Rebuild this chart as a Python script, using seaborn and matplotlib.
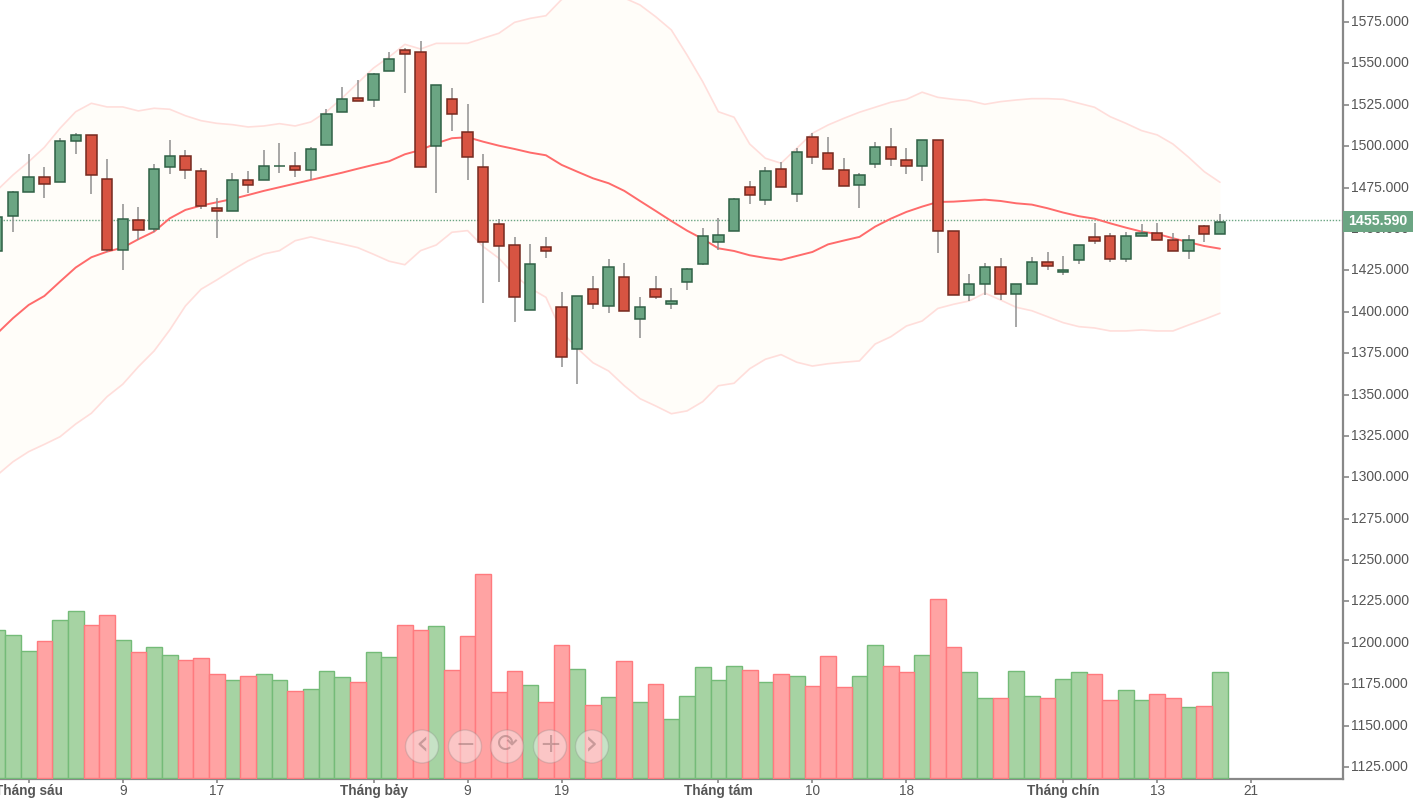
import matplotlib
matplotlib.use('Agg')
import matplotlib.pyplot as plt
from matplotlib.patches import Circle, Rectangle
import pandas as pd
import seaborn as sns

# Daily candles, first one is cut off by the left edge
days = list(range(-1, 78))
opens = [1436.9, 1457.9, 1472.1, 1481.2, 1478.2, 1503.1, 1507.0, 1480.4, 1437.3, 1455.6,
         1450.2, 1487.2, 1494.1, 1485.0, 1462.5, 1460.9, 1479.6, 1479.6, 1487.9, 1488.1,
         1485.6, 1500.7, 1520.5, 1528.9, 1528.1, 1545.4, 1558.3, 1556.7, 1500.1, 1528.7,
         1508.4, 1487.2, 1453.2, 1440.5, 1401.1, 1439.1, 1402.7, 1377.7, 1414.0, 1403.5,
         1420.8, 1395.9, 1414.0, 1404.9, 1417.8, 1429.1, 1442.0, 1448.8, 1475.2, 1467.5,
         1486.4, 1471.3, 1505.4, 1495.7, 1485.6, 1476.6, 1489.5, 1499.3, 1491.9, 1488.1,
         1504.0, 1448.8, 1410.1, 1417.0, 1426.9, 1411.0, 1417.0, 1429.9, 1423.8, 1431.3,
         1445.0, 1445.8, 1432.1, 1445.8, 1447.4, 1443.6, 1436.7, 1451.8, 1447.2]
highs = [1457.0, 1473.2, 1495.1, 1487.6, 1504.8, 1507.8, 1507.0, 1492.1, 1464.9, 1463.5,
         1489.1, 1503.6, 1497.5, 1486.6, 1468.5, 1483.6, 1485.2, 1497.5, 1501.7, 1496.5,
         1499.7, 1522.3, 1536.0, 1539.8, 1544.0, 1557.1, 1559.1, 1563.7, 1537.2, 1535.0,
         1525.3, 1495.1, 1455.8, 1445.4, 1440.7, 1445.4, 1412.0, 1409.7, 1421.8, 1431.7,
         1429.3, 1409.1, 1421.8, 1414.2, 1426.3, 1450.4, 1456.4, 1468.5, 1479.2, 1487.6,
         1490.5, 1498.7, 1507.8, 1505.8, 1492.9, 1483.6, 1502.5, 1510.8, 1498.7, 1504.0,
         1504.0, 1448.8, 1422.6, 1429.3, 1432.5, 1417.0, 1433.3, 1436.3, 1433.9, 1440.5,
         1453.4, 1447.4, 1448.2, 1452.8, 1453.4, 1447.4, 1446.6, 1452.6, 1458.9]
lows = [1436.9, 1448.4, 1472.1, 1468.9, 1478.2, 1495.1, 1471.1, 1436.3, 1425.2, 1443.4,
        1448.0, 1483.2, 1480.2, 1462.3, 1444.8, 1460.9, 1471.5, 1479.6, 1484.0, 1481.6,
        1479.6, 1500.7, 1520.5, 1527.1, 1523.9, 1545.4, 1532.3, 1487.2, 1471.9, 1509.0,
        1479.4, 1405.5, 1418.2, 1394.0, 1401.1, 1432.7, 1366.9, 1356.4, 1401.7, 1399.5,
        1400.5, 1384.2, 1407.7, 1401.7, 1413.0, 1428.1, 1437.3, 1448.8, 1465.1, 1464.3,
        1475.2, 1466.5, 1489.5, 1486.4, 1476.0, 1462.9, 1487.0, 1487.9, 1483.2, 1478.8,
        1435.7, 1410.1, 1406.3, 1410.1, 1407.1, 1391.0, 1417.0, 1425.0, 1422.0, 1428.9,
        1440.9, 1430.3, 1430.3, 1445.8, 1443.6, 1436.7, 1431.9, 1442.4, 1447.2]
closes = [1457.0, 1472.1, 1481.2, 1477.4, 1503.1, 1507.0, 1482.6, 1437.3, 1456.2, 1449.4,
          1486.4, 1494.1, 1485.6, 1463.7, 1460.7, 1479.6, 1476.6, 1488.1, 1488.3, 1485.6,
          1498.5, 1519.7, 1528.7, 1527.1, 1543.8, 1552.9, 1555.9, 1487.2, 1537.0, 1519.7,
          1493.3, 1442.0, 1439.7, 1408.7, 1429.1, 1436.7, 1372.5, 1409.5, 1404.9, 1426.9,
          1400.5, 1402.7, 1408.7, 1406.5, 1426.1, 1445.6, 1446.6, 1468.3, 1470.5, 1485.0,
          1475.2, 1496.3, 1493.3, 1486.4, 1476.0, 1482.6, 1499.3, 1492.5, 1488.1, 1504.0,
          1448.8, 1410.1, 1417.0, 1426.9, 1411.0, 1417.0, 1429.9, 1427.7, 1425.4, 1440.5,
          1442.8, 1432.1, 1445.8, 1447.4, 1443.6, 1436.7, 1443.6, 1447.2, 1454.0]

# 20 day average and bands
ma_mid = [1387.0, 1396.1, 1404.1, 1409.5, 1418.2, 1426.7, 1432.9, 1436.3, 1438.7, 1443.8,
          1448.4, 1456.4, 1461.5, 1464.1, 1466.1, 1468.1, 1470.5, 1473.0, 1475.2, 1477.4,
          1479.6, 1481.8, 1484.0, 1486.4, 1488.7, 1490.9, 1495.1, 1497.7, 1501.7, 1504.8,
          1505.4, 1502.7, 1500.3, 1498.3, 1496.1, 1494.5, 1488.7, 1484.6, 1480.6, 1477.6,
          1473.0, 1466.9, 1460.9, 1454.8, 1449.0, 1444.0, 1438.3, 1436.7, 1434.1, 1432.5,
          1431.3, 1433.7, 1436.1, 1440.7, 1443.0, 1445.2, 1451.4, 1456.2, 1460.3, 1463.5,
          1466.3, 1466.5, 1467.1, 1467.7, 1466.9, 1465.5, 1464.7, 1462.5, 1459.9, 1457.7,
          1456.2, 1453.4, 1450.8, 1448.4, 1447.0, 1444.4, 1442.0, 1439.7, 1438.1]
band_up = [1473.5, 1482.6, 1490.6, 1499.3, 1510.8, 1520.8, 1525.9, 1523.7, 1523.7, 1521.3,
           1522.9, 1522.3, 1518.4, 1515.4, 1513.8, 1513.0, 1511.6, 1512.2, 1513.6, 1512.2,
           1514.6, 1520.8, 1529.1, 1538.2, 1547.2, 1553.9, 1561.5, 1558.7, 1562.1, 1562.1,
           1562.1, 1565.2, 1568.2, 1574.8, 1577.2, 1578.8, 1588.6, 1591.9, 1593.1, 1592.5,
           1589.5, 1585.3, 1578.2, 1570.2, 1555.1, 1539.0, 1520.8, 1517.5, 1501.3, 1492.7,
           1489.7, 1498.7, 1507.8, 1512.8, 1516.8, 1520.5, 1523.5, 1526.5, 1528.3, 1532.6,
           1529.5, 1528.3, 1527.5, 1525.3, 1526.9, 1527.9, 1528.7, 1528.7, 1528.3, 1525.9,
           1523.5, 1517.8, 1513.8, 1509.4, 1506.8, 1501.3, 1493.3, 1484.6, 1478.2]
band_low = [1301.4, 1309.4, 1315.5, 1319.9, 1324.5, 1332.2, 1338.7, 1348.7, 1356.2, 1366.8,
            1376.3, 1389.0, 1403.5, 1413.6, 1419.2, 1425.2, 1430.8, 1434.9, 1436.9, 1442.9,
            1445.2, 1442.9, 1440.9, 1438.7, 1434.7, 1430.5, 1428.4, 1436.9, 1440.3, 1448.0,
            1449.0, 1439.3, 1432.3, 1422.2, 1414.2, 1408.7, 1388.0, 1377.9, 1369.2, 1364.2,
            1355.3, 1347.5, 1343.1, 1338.4, 1340.1, 1345.7, 1355.3, 1356.8, 1365.6, 1371.3,
            1374.1, 1369.5, 1367.2, 1368.6, 1369.5, 1370.3, 1380.5, 1384.9, 1391.4, 1394.4,
            1402.0, 1404.5, 1406.5, 1411.3, 1407.1, 1402.7, 1400.6, 1397.0, 1393.4, 1391.0,
            1390.2, 1388.4, 1388.4, 1389.0, 1388.4, 1388.4, 1392.0, 1395.4, 1399.1]

# Volume has no scale on the chart, so these are just relative bar heights
volumes = [148.3, 143.3, 127.0, 137.0, 158.3, 167.0, 153.3, 163.3, 138.3, 125.7,
           130.7, 123.3, 118.3, 119.7, 104.3, 98.3, 102.0, 104.3, 98.3, 87.0,
           89.3, 107.0, 100.7, 95.7, 125.7, 120.7, 153.3, 148.3, 152.0, 108.3,
           142.0, 204.3, 85.7, 107.0, 93.3, 75.7, 133.0, 109.3, 73.3, 80.7,
           117.0, 75.7, 94.3, 59.3, 82.0, 110.7, 98.3, 112.0, 108.3, 95.7,
           104.3, 102.0, 92.0, 122.0, 90.7, 102.0, 133.0, 112.0, 105.7, 123.3,
           179.3, 130.7, 105.7, 79.7, 79.7, 107.0, 82.0, 79.7, 99.3, 105.7,
           104.3, 78.3, 88.3, 78.3, 84.3, 79.7, 70.7, 72.0, 105.7]

last_price = 1455.59
price_ticks = list(range(1125, 1600, 25))
date_ticks = [1, 7, 13, 23, 29, 35, 45, 51, 57, 67, 73, 79]
date_labels = ['Tháng sáu', '9', '17', 'Tháng bảy', '9', '19', 'Tháng tám', '10', '18', 'Tháng chín', '13', '21']

sns.set_style('white')
plt.rcParams['font.family'] = ['Liberation Sans', 'DejaVu Sans']

df = pd.DataFrame({'day': days, 'open': opens, 'high': highs, 'low': lows, 'close': closes,
                   'volume': volumes, 'mid': ma_mid, 'up': band_up, 'dn': band_low})
df['dir'] = ['up' if c >= o else 'down' for o, c in zip(df['open'], df['close'])]
body_low = df[['open', 'close']].min(axis=1)
body_h = (df['open'] - df['close']).abs()

fig, ax = plt.subplots(figsize=(14.13, 8.02), dpi=100)
fig.subplots_adjust(left=0, right=1343 / 1413, top=1, bottom=1 - 779 / 802)

# Volume along the bottom, on its own hidden scale
ax2 = ax.twinx()
sns.barplot(data=df, x='day', y='volume', hue='dir', hue_order=['up', 'down'],
            palette={'up': '#a6d3a3', 'down': '#ffa3a3'}, native_scale=True, dodge=False,
            width=1, saturation=1, legend=False, ax=ax2)
for cont, edge in zip(ax2.containers, ['#74bb78', '#ff7a7e']):
    for bar in cont:
        bar.set_edgecolor(edge)
        bar.set_linewidth(1.0)
ax2.set_ylim(-1, 778)
ax2.set_axis_off()

# Bollinger bands and moving average
ax.fill_between(df['day'], df['dn'], df['up'], color='#fffdf9', lw=0, zorder=1)
ax.axhline(last_price, color='#6ba583', lw=1.0, ls=(0, (1, 1.2)), zorder=2)
sns.lineplot(data=df, x='day', y='up', color='#ffdedb', lw=1.2, errorbar=None, ax=ax, zorder=2)
sns.lineplot(data=df, x='day', y='dn', color='#ffdedb', lw=1.2, errorbar=None, ax=ax, zorder=2)
sns.lineplot(data=df, x='day', y='mid', color='#ff6b6b', lw=1.4, errorbar=None, ax=ax, zorder=3)

# Candles
ax.vlines(df['day'], df['low'], df['high'], color='#8f8f8f', lw=1.1, zorder=4)
up = df['dir'] == 'up'
ax.bar(df['day'][up], body_h[up], bottom=body_low[up], width=0.66, color='#6ba583', edgecolor='#2f6146', lw=1.1, zorder=5)
ax.bar(df['day'][~up], body_h[~up], bottom=body_low[~up], width=0.66, color='#d75442', edgecolor='#752a20', lw=1.1, zorder=5)

ax.set_xlim(-0.829, 84.85)
ax.set_ylim(1117.77, 1588.29)
ax.set_xlabel('')
ax.set_ylabel('')
# twinx moved the price labels to the left, put them back
ax.yaxis.tick_right()
ax.set_yticks(price_ticks)
ax.set_yticklabels(['%.3f' % p for p in price_ticks])
ax.set_xticks(date_ticks)
ax.set_xticklabels(date_labels)
ax.tick_params(axis='y', right=True, left=False, length=4, width=1.2, color='#888888',
               labelcolor='#555555', labelsize=10, pad=2)
ax.tick_params(axis='x', bottom=True, length=3, width=1.2, color='#888888',
               labelcolor='#555555', labelsize=9.8, pad=0.5)
for lab in ax.get_xticklabels():
    if lab.get_text().startswith('Tháng'):
        lab.set_fontweight('bold')
for lab in ax.get_yticklabels():
    lab.set_verticalalignment('center')
for side in ['left', 'top']:
    ax.spines[side].set_visible(False)
for side in ['right', 'bottom']:
    ax.spines[side].set_color('#888888')
    ax.spines[side].set_linewidth(1.6)

# Overlay in pixels for the zoom buttons and the price tag
over = fig.add_axes([0, 0, 1, 1], zorder=10)
over.set_xlim(0, 1413)
over.set_ylim(802, 0)
over.set_axis_off()
buttons = [(422, '‹', 24), (465, '−', 17), (507, '⟳', 18), (550, '+', 19), (592, '›', 24)]
for cx, glyph, size in buttons:
    over.add_patch(Circle((cx, 746.5), 16.5, facecolor=(0.97, 0.97, 0.97, 0.42),
                          edgecolor=(0.5, 0.5, 0.5, 0.25), lw=1))
    over.text(cx, 745, glyph, ha='center', va='center', fontsize=size,
              color=(0.55, 0.4, 0.4, 0.45), family=['DejaVu Sans'])
over.add_patch(Rectangle((1343, 211), 70, 21, facecolor='#6ba583', edgecolor='none'))
over.text(1378, 221, '%.3f' % last_price, ha='center', va='center', fontsize=10.2,
          color='white', fontweight='bold')

fig.savefig('out.png', dpi=100)
